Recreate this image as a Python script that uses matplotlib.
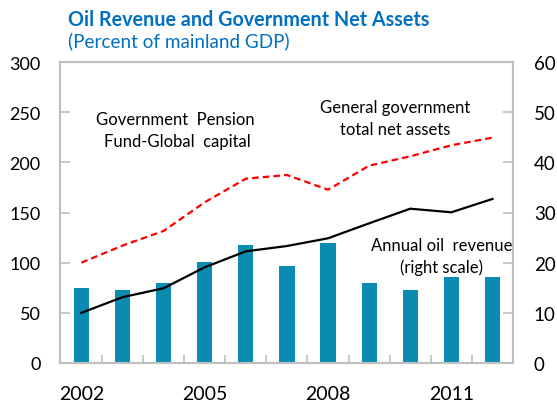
import matplotlib
matplotlib.use("Agg")
import matplotlib.pyplot as plt
import numpy as np

years = [2002, 2003, 2004, 2005, 2006, 2007, 2008, 2009, 2010, 2011, 2012]
oil_revenue = [15.0, 14.6, 16.0, 20.1, 23.5, 19.3, 23.9, 16.0, 14.6, 17.1, 17.1]
gpfg_capital = [50, 65.6, 74.5, 95.4, 111.3, 116.6, 124.3, 139.2, 153.8, 150.2, 163.5]
gg_net_assets = [100, 117, 131.6, 160.2, 183.7, 187.4, 172.7, 196.7, 206, 217, 224.6]
xtick_labels = ["2002", "2005", "2008", "2011"]

plt.rcParams['font.family'] = ['Lato', 'DejaVu Sans']

fig = plt.figure(figsize=(5.57, 4.06), dpi=100)
ax = fig.add_axes([60/557, 42/406, (513-60)/557, (364-63)/406])
ax2 = ax.twinx()

x = np.arange(len(years))
bar_color = '#0A8CB0'
ax2.bar(x, oil_revenue, width=0.37, color=bar_color, zorder=2)

ax.plot(x, gpfg_capital, color='black', lw=1.6, zorder=3)
ax.plot(x, gg_net_assets, color='#FF0000', lw=1.6, ls=(0, (3, 1.8)), zorder=3)

ax.set_zorder(ax2.get_zorder() + 1)
ax.patch.set_visible(False)

ax.set_xlim(-0.52, 10.5)
ax.set_ylim(0, 300)
ax2.set_ylim(0, 60)
ax.set_yticks(np.arange(0, 301, 50))
ax2.set_yticks(np.arange(0, 61, 10))

ax.set_xticks([0, 3, 6, 9])
ax.set_xticklabels(xtick_labels)
ax.set_xticks(np.arange(0.5, 10.5, 1), minor=True)

spine_color = '#BFBFBF'
for a in (ax, ax2):
    for s in a.spines.values():
        s.set_color(spine_color)
        s.set_linewidth(1.5)

ax.tick_params(axis='y', direction='in', length=7, width=1.2, color=spine_color,
               labelsize=13, pad=14, labelcolor='black')
ax2.tick_params(axis='y', direction='in', length=7, width=1.2, color=spine_color,
                labelsize=13.5, pad=15, labelcolor='black')
ax.tick_params(axis='x', which='major', length=0, labelsize=14, pad=15.5)
ax.tick_params(axis='x', which='minor', direction='in', length=6, width=1.2, color=spine_color)

txt_kw = dict(fontsize=12, ha='center', va='center', color='black')
fig.text(175/557, 1 - 120/406, "Government  Pension", **txt_kw)
fig.text(177/557, 1 - 142/406, "Fund-Global  capital", **txt_kw)
fig.text(395/557, 1 - 108/406, "General government", **txt_kw)
fig.text(395/557, 1 - 130/406, "total net assets", **txt_kw)
fig.text(442/557, 1 - 246/406, "Annual oil  revenue", **txt_kw)
fig.text(442/557, 1 - 268/406, "(right scale)", **txt_kw)

title_color = '#0070C0'
fig.text(68/557, 1 - 20/406, "Oil Revenue and Government Net Assets", fontsize=14.2,
         fontweight='bold', color=title_color, ha='left', va='center')
fig.text(68/557, 1 - 41/406, "(Percent of mainland GDP)", fontsize=13.6,
         color=title_color, ha='left', va='center')

fig.savefig("out.png", dpi=100)
